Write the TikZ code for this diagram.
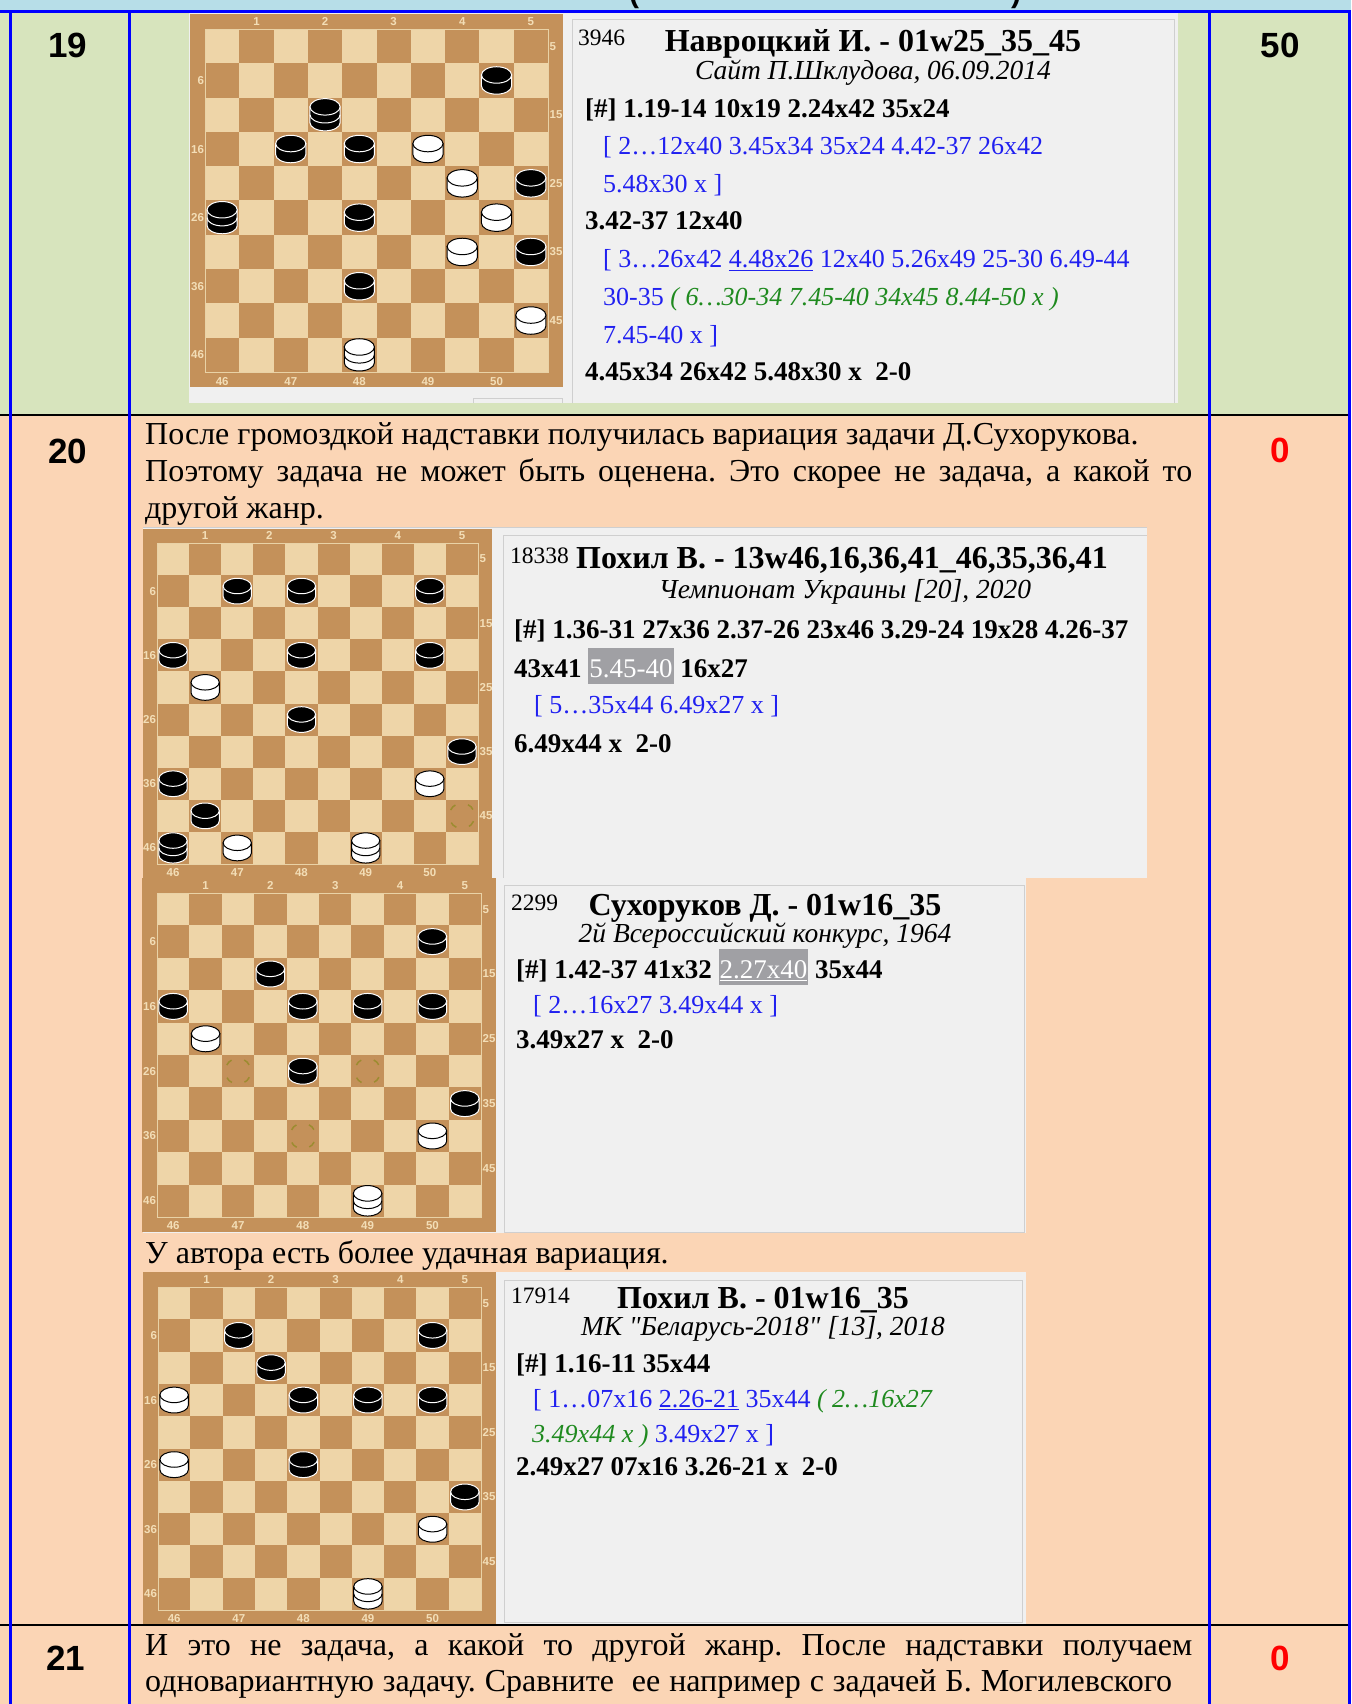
\documentclass[tikz,border=0pt]{standalone}
\usepackage{fontspec}
\setmainfont{Liberation Serif}
\setsansfont{Liberation Sans}
\definecolor{topband}{HTML}{B7DEE8}
\definecolor{rowgreen}{HTML}{D7E4BD}
\definecolor{rowpeach}{HTML}{FBD5B5}
\definecolor{tblue}{HTML}{0000FF}
\definecolor{panelbg}{HTML}{F0F0F0}
\definecolor{panelline}{HTML}{CFCFCF}
\definecolor{darksq}{HTML}{C4915A}
\definecolor{lightsq}{HTML}{EED5A8}
\definecolor{gridc}{HTML}{E9D2A6}
\definecolor{boardtxt}{HTML}{F3DEB7}
\definecolor{movblue}{HTML}{2020F0}
\definecolor{movgreen}{HTML}{1F8A1F}
\definecolor{hlgrey}{HTML}{A0A0A4}
\definecolor{ringc}{HTML}{9C8C30}
\definecolor{scored}{HTML}{FF0000}
\tikzset{
  rownum/.style={font=\fontsize{35}{40}\selectfont\sffamily\bfseries, inner sep=0pt},
  para/.style={font=\fontsize{32}{37}\selectfont, anchor=base west, inner sep=0pt},
  pnum/.style={font=\fontsize{23.5}{28}\selectfont, anchor=base west, inner sep=0pt},
  pttl/.style={font=\fontsize{32}{38}\selectfont\bfseries, anchor=base, inner sep=0pt},
  psrc/.style={font=\fontsize{27.5}{32}\selectfont\itshape, anchor=base, inner sep=0pt},
  mvmain/.style={font=\fontsize{27}{37}\selectfont\bfseries, anchor=base west, inner sep=0pt},
  mvvar/.style={font=\fontsize{26}{37}\selectfont, text=movblue, anchor=base west, inner sep=0pt},
  lbl/.style={font=\fontsize{11.5}{12}\selectfont\sffamily\bfseries, text=boardtxt, inner sep=0.5pt},
  hdr/.style={font=\fontsize{30}{36}\selectfont\sffamily\bfseries, anchor=base, inner sep=0pt},
  pline/.style={draw=panelline, line width=1pt},
  gridline/.style={draw=gridc, line width=0.8pt},
  hitring/.style={draw=ringc, line width=1.5pt, dash pattern=on 7pt off 13.3pt, dash phase=13.6pt},
  tline/.style={draw=tblue, line width=3pt},
  rline/.style={draw=black, line width=2.5pt},
  onboard/.style n args={3}{shift={(#1,-#2)}, x=#3pt, y=#3pt},
}
% board with frame, squares and the numbers round it (inside an onboard scope)
\newcommand{\drawboard}[1]{%
  \fill[darksq] (-0.45,0.45) rectangle (10.45,-10.45);
  \fill[lightsq] (0,0) rectangle (10,-10);
  \foreach \rr in {1,...,10} {
    \foreach \k in {1,...,5} {
      \pgfmathtruncatemacro{\cc}{2*\k-1+mod(\rr,2)}
      \fill[darksq] (\cc-1,-\rr+1) rectangle (\cc,-\rr);
    }
  }
  \draw[gridline] (0,0) rectangle (10,-10);
  \foreach \k in {1,...,5} {
    \node[lbl] (#1t\k) at (2*\k-0.5,0.22) {\k};
  }
  \foreach \k/\v in {0/5,2/15,4/25,6/35,8/45} {
    \node[lbl, anchor=west] (#1r\v) at (10.03,-\k-0.5) {\v};
  }
  \foreach \k/\v in {1/6,3/16,5/26,7/36,9/46} {
    \node[lbl, anchor=east] (#1l\v) at (-0.01,-\k-0.5) {\v};
  }
  \foreach \k/\v in {0/46,2/47,4/48,6/49,8/50} {
    \node[lbl] (#1b\v) at (\k+0.5,-10.27) {\v};
  }
}
% a man: two discs; a king: three discs
\newcommand{\drawman}[4]{%
  \draw[#4, line width=1pt, fill=#3] (#1-0.94,-#2+0.66) -- (#1-0.94,-#2+0.34) arc (180:360:0.44 and 0.24) -- (#1-0.06,-#2+0.66) -- cycle;
  \draw[#4, line width=1pt, fill=#3] (#1-0.5,-#2+0.66) ellipse (0.44 and 0.24);
}
\newcommand{\drawking}[4]{%
  \draw[#4, line width=1pt, fill=#3] (#1-0.94,-#2+0.73) -- (#1-0.94,-#2+0.27) arc (180:360:0.44 and 0.24) -- (#1-0.06,-#2+0.73) -- cycle;
  \draw[#4, line width=1pt] (#1-0.94,-#2+0.5) arc (180:360:0.44 and 0.24);
  \draw[#4, line width=1pt, fill=#3] (#1-0.5,-#2+0.73) ellipse (0.44 and 0.24);
}
\newcommand{\hitmark}[2]{\draw[hitring] (#1-0.5,-#2+0.5) circle (0.4);}
\newcommand{\hlmove}[1]{{\setlength{\fboxsep}{1pt}\colorbox{hlgrey}{\rule[-6pt]{0pt}{34pt}\textcolor{white}{\mdseries #1}}}}
\newcommand{\subvar}[1]{{\color{movgreen}\itshape\mdseries #1}}

\begin{document}
\frenchspacing
\begin{tikzpicture}[x=1pt, y=1pt]
\useasboundingbox (0,0) rectangle (1351,-1704);

% ---------------- rows of the table ----------------
\fill[topband] (0,0) rectangle (1351,-12);
\fill[rowgreen] (0,-12) rectangle (1351,-415);
\fill[rowpeach] (0,-415) rectangle (1351,-1704);
\begin{scope}
  \clip (0,0) rectangle (1351,-11);
  \node[hdr] (hdrl) at (634,-3) {(};
  \node[hdr] (hdrr) at (1016,-3) {)};
\end{scope}

\node[rownum] (n19) at (68,-45) {19};
\node[rownum] (s19) at (1280,-45) {50};
\node[rownum] (n20) at (68,-451) {20};
\node[rownum, text=scored] (s20) at (1280,-450) {0};
\node[rownum] (n21) at (66,-1658) {21};
\node[rownum, text=scored] (s21) at (1280,-1658) {0};

% ---------------- problem 19 ----------------
\fill[panelbg] (189,-13) rectangle (1178,-403);
\draw[pline] (572,-403) |- (1174,-20) -- (1174,-403);
\draw[pline] (473,-403) |- (562,-398) -- (562,-403);
\begin{scope}[onboard={205}{29}{34.3}]
  \drawboard{a}
  \foreach \cc/\rr in {9/2,3/4,5/4,10/5,5/6,10/7,5/8} {\drawman{\cc}{\rr}{black}{white}}
  \foreach \cc/\rr in {4/3,1/6} {\drawking{\cc}{\rr}{black}{white}}
  \foreach \cc/\rr in {7/4,8/5,9/6,8/7,10/9} {\drawman{\cc}{\rr}{white}{black}}
  \drawking{5}{10}{white}{black}
\end{scope}
\node[pnum] (num19) at (578,-46) {3946};
\node[pttl] (ttl19) at (873,-52) {Навроцкий И. - 01w25\_35\_45};
\node[psrc] (src19) at (873,-80) {Сайт П.Шклудова, 06.09.2014};
\node[mvmain] (m19a) at (585,-118) {[\#] 1.19-14 10x19 2.24x42 35x24};
\node[mvvar] (m19b) at (603,-155) {[ 2…12x40 3.45x34 35x24 4.42-37 26x42};
\node[mvvar] (m19c) at (603,-193) {5.48x30 x ]};
\node[mvmain] (m19d) at (585,-230) {3.42-37 12x40};
\node[mvvar] (m19e) at (603,-268) {[ 3…26x42 \underline{4.48x26} 12x40 5.26x49 25-30 6.49-44};
\node[mvvar] (m19f) at (603,-305) {30-35 \subvar{( 6…30-34 7.45-40 34x45 8.44-50 x )}};
\node[mvvar] (m19g) at (603,-343) {7.45-40 x ]};
\node[mvmain] (m19h) at (585,-380) {4.45x34 26x42 5.48x30 x\ \ 2-0};

% ---------------- problem 20 ----------------
\node[para] (p20a) at (145,-444) {После громоздкой надставки получилась вариация задачи Д.Сухорукова.};
\node[para] (p20b) at (145,-481) {\makebox[1047pt][s]{Поэтому задача не может быть оценена. Это скорее не задача, а какой то}};
\node[para] (p20c) at (145,-518) {другой жанр.};

% the entry itself
\fill[panelbg] (143,-527) rectangle (1147,-878);
\draw[pline] (143,-527.5) -- (1147,-527.5);
\draw[pline] (503,-878) |- (1147,-535);
\begin{scope}[onboard={157}{543}{32.1}]
  \drawboard{b}
  \foreach \cc/\rr in {9/8,10/9} {\hitmark{\cc}{\rr}}
  \foreach \cc/\rr in {3/2,5/2,9/2,1/4,5/4,9/4,5/6,10/7,1/8,2/9} {\drawman{\cc}{\rr}{black}{white}}
  \drawking{1}{10}{black}{white}
  \foreach \cc/\rr in {2/5,9/8,3/10} {\drawman{\cc}{\rr}{white}{black}}
  \drawking{7}{10}{white}{black}
\end{scope}
\node[pnum] (num20a) at (510,-563) {18338};
\node[pttl, anchor=base west] (ttl20a) at (576,-568) {Похил В. - 13w46,16,36,41\_46,35,36,41};
\node[psrc] (src20a) at (845,-598) {Чемпионат Украины [20], 2020};
\node[mvmain] (m20a) at (514,-638) {[\#] 1.36-31 27x36 2.37-26 23x46 3.29-24 19x28 4.26-37};
\node[mvmain] (m20b) at (514,-677) {43x41 \hlmove{5.45-40} 16x27};
\node[mvvar] (m20c) at (534,-713) {[ 5…35x44 6.49x27 x ]};
\node[mvmain] (m20d) at (514,-752) {6.49x44 x\ \ 2-0};

% the problem of Sukhorukov
\fill[panelbg] (143,-878) rectangle (1026,-1233);
\draw[pline] (504,-885) rectangle (1024,-1232);
\begin{scope}[onboard={157}{893}{32.4}]
  \drawboard{c}
  \foreach \cc/\rr in {3/6,7/6,5/8,9/8} {\hitmark{\cc}{\rr}}
  \foreach \cc/\rr in {9/2,4/3,1/4,5/4,7/4,9/4,5/6,10/7} {\drawman{\cc}{\rr}{black}{white}}
  \foreach \cc/\rr in {2/5,9/8} {\drawman{\cc}{\rr}{white}{black}}
  \drawking{7}{10}{white}{black}
\end{scope}
\node[pnum] (num20b) at (511,-910) {2299};
\node[pttl] (ttl20b) at (765,-915) {Сухоруков Д. - 01w16\_35};
\node[psrc] (src20b) at (765,-942) {2й Всероссийский конкурс, 1964};
\node[mvmain] (m20e) at (516,-978) {[\#] 1.42-37 41x32 \hlmove{\underline{2.27x40}} 35x44};
\node[mvvar] (m20f) at (533,-1013) {[ 2…16x27 3.49x44 x ]};
\node[mvmain] (m20g) at (516,-1048) {3.49x27 x\ \ 2-0};

\node[para] (p20d) at (145,-1263) {У автора есть более удачная вариация.};

% the better one
\fill[panelbg] (143,-1272) rectangle (1026,-1624);
\draw[pline] (504,-1280) rectangle (1022,-1622);
\begin{scope}[onboard={158}{1287}{32.3}]
  \drawboard{d}
  \foreach \cc/\rr in {3/2,9/2,4/3,5/4,7/4,9/4,5/6,10/7} {\drawman{\cc}{\rr}{black}{white}}
  \foreach \cc/\rr in {1/4,1/6,9/8} {\drawman{\cc}{\rr}{white}{black}}
  \drawking{7}{10}{white}{black}
\end{scope}
\node[pnum] (num20c) at (511,-1303) {17914};
\node[pttl] (ttl20c) at (763,-1308) {Похил В. - 01w16\_35};
\node[psrc] (src20c) at (763,-1335) {\addfontfeatures{Ligatures=TeXOff}МК "Беларусь-2018" [13], 2018};
\node[mvmain] (m20h) at (516,-1372) {[\#] 1.16-11 35x44};
\node[mvvar] (m20i) at (533,-1407) {[ 1…07x16 \underline{2.26-21} 35x44 \subvar{( 2…16x27}};
\node[mvvar] (m20j) at (532,-1442) {\subvar{3.49x44 x )} 3.49x27 x ]};
\node[mvmain] (m20k) at (516,-1475) {2.49x27 07x16 3.26-21 x\ \ 2-0};

% ---------------- problem 21 ----------------
\node[para] (p21a) at (145,-1655) {\makebox[1047pt][s]{И это не задача, а какой то другой жанр. После надставки получаем}};
\node[para] (p21b) at (145,-1691) {\makebox[1027pt][s]{одновариантную задачу. Сравните\ \ ее например с задачей Б. Могилевского}};

% ---------------- rules of the table ----------------
\draw[rline] (0,-415) -- (1351,-415);
\draw[rline] (0,-1625) -- (1351,-1625);
\draw[tline] (0,-12) -- (1351,-12);
\foreach \x in {10,129,1209,1349} {
  \draw[tline] (\x,-12) -- (\x,-1704);
}
\end{tikzpicture}
\end{document}
